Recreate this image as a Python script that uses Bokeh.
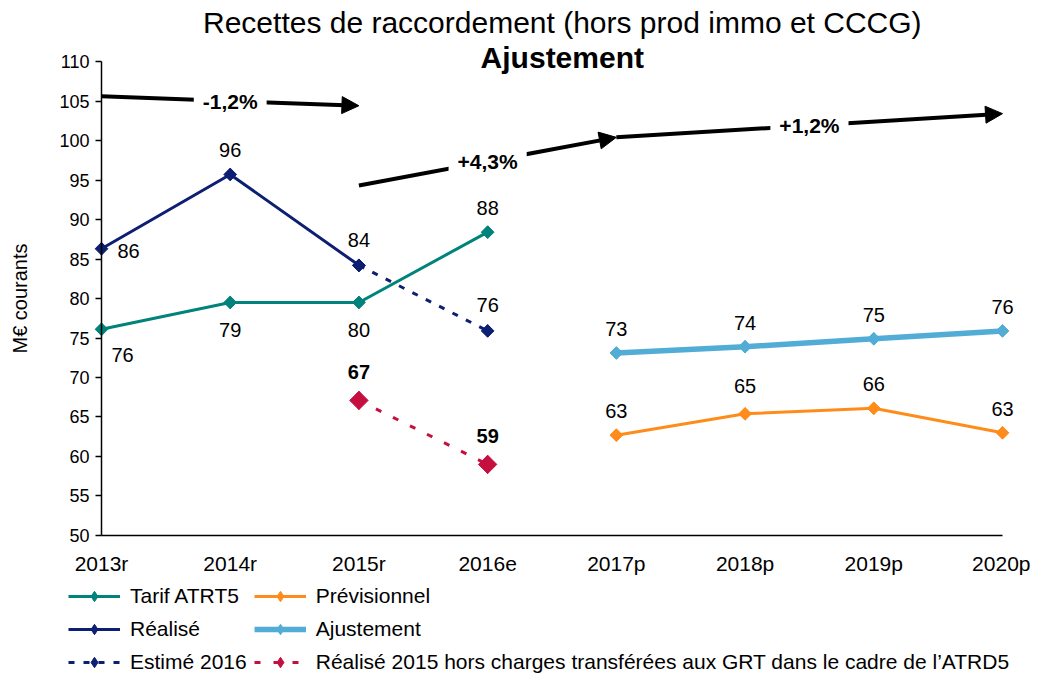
from bokeh.plotting import figure
from bokeh.models import (Range1d, FixedTicker, Label, Arrow, NormalHead, Legend,
                          LegendItem, ColumnDataSource)
from bokeh.core.properties import value
from bokeh.embed import file_html
from bokeh.resources import INLINE

# ---------------- data ----------------
CATEGORIES = ["2013r", "2014r", "2015r", "2016e", "2017p", "2018p", "2019p", "2020p"]

TARIF_CATS = ["2013r", "2014r", "2015r", "2016e"]
TARIF_VALUES = [76.1, 79.5, 79.5, 88.4]
TARIF_LABELS = ["76", "79", "80", "88"]

REALISE_CATS = ["2013r", "2014r", "2015r"]
REALISE_VALUES = [86.3, 95.7, 84.2]
REALISE_LABELS = ["86", "96", "84"]

ESTIME_CATS = ["2015r", "2016e"]
ESTIME_VALUES = [84.2, 75.9]
ESTIME_LABELS = ["", "76"]

HORS_GRT_CATS = ["2015r", "2016e"]
HORS_GRT_VALUES = [67.1, 59.0]
HORS_GRT_LABELS = ["67", "59"]

PREV_CATS = ["2017p", "2018p", "2019p", "2020p"]
PREV_VALUES = [62.7, 65.4, 66.1, 63.0]
PREV_LABELS = ["63", "65", "66", "63"]

AJUST_CATS = ["2017p", "2018p", "2019p", "2020p"]
AJUST_VALUES = [73.1, 73.9, 74.9, 75.9]
AJUST_LABELS = ["73", "74", "75", "76"]

TREND_LABELS = ["-1,2%", "+4,3%", "+1,2%"]
TREND_FROM_CAT = ["2013r", "2015r", "2017p"]
TREND_FROM_VAL = [105.6, 94.3, 100.4]
TREND_TO_CAT = ["2015r", "2017p", "2020p"]
TREND_TO_VAL = [104.4, 100.4, 103.4]

Y_MIN, Y_MAX = 50, 110
Y_TICKS = list(range(50, 111, 5))

TITLE = "Recettes de raccordement (hors prod immo et CCCG)"
SUBTITLE = "Ajustement"
Y_LABEL = "M€ courants"

# ---------------- styles ----------------
FONT = "Liberation Sans"
FONT_V = value(FONT)
TEAL = "#00837A"
NAVY = "#0D1F72"
LIGHTBLUE = "#52ADD6"
ORANGE = "#FF8C1A"
CRIMSON = "#C5103F"

def xi(cats):
    return [CATEGORIES.index(c) for c in cats]

# the frame spans the whole canvas; axes are pinned at (0, Y_MIN) and bounded
p = figure(width=1030, height=675, output_backend="svg", toolbar_location=None,
           x_range=Range1d(-0.7847, 7.2175), y_range=Range1d(32.278, 117.722),
           min_border=0)
p.outline_line_color = None
p.xgrid.visible = False
p.ygrid.visible = False
p.background_fill_color = "white"
p.border_fill_color = "white"

# axes
p.yaxis.ticker = FixedTicker(ticks=Y_TICKS)
p.yaxis.bounds = (Y_MIN, Y_MAX)
p.yaxis.fixed_location = 0
p.yaxis.minor_tick_line_color = None
p.yaxis.major_tick_out = 6
p.yaxis.major_tick_in = 0
p.yaxis.axis_line_width = 1.5
p.yaxis.axis_line_color = "black"
p.yaxis.major_tick_line_width = 1.5
p.yaxis.major_tick_line_color = "black"
p.yaxis.major_label_text_font = FONT
p.yaxis.major_label_text_font_size = "18px"
p.yaxis.major_label_text_color = "black"
p.yaxis.major_label_standoff = 6
p.yaxis.axis_label = Y_LABEL
p.yaxis.axis_label_text_font = FONT
p.yaxis.axis_label_text_font_size = "20px"
p.yaxis.axis_label_text_font_style = "normal"
p.yaxis.axis_label_text_color = "black"
p.yaxis.axis_label_standoff = 25

p.xaxis.ticker = FixedTicker(ticks=list(range(len(CATEGORIES))))
p.xaxis.bounds = (0, len(CATEGORIES) - 1)
p.xaxis.fixed_location = Y_MIN
p.xaxis.major_label_overrides = {i: c for i, c in enumerate(CATEGORIES)}
p.xaxis.minor_tick_line_color = None
p.xaxis.major_tick_line_color = None
p.xaxis.axis_line_width = 1.5
p.xaxis.axis_line_color = "black"
p.xaxis.major_label_text_font = FONT
p.xaxis.major_label_text_font_size = "21px"
p.xaxis.major_label_text_color = "black"
p.xaxis.major_label_standoff = 11

# series
def series(cats, vals, color, lw, dash="solid", msize=9, legend_msize=12):
    src = ColumnDataSource(dict(x=xi(cats), y=vals))
    l = p.line("x", "y", source=src, line_color=color, line_width=lw, line_dash=dash)
    # diamond used for the legend swatch, hidden under the square-diamond marker
    d = p.scatter("x", "y", source=src, marker="diamond", size=legend_msize,
                  fill_color=color, line_color=color)
    p.scatter("x", "y", source=src, marker="square", angle=0.785398, size=msize,
              fill_color=color, line_color=color)
    return [l, d]

r_tarif = series(TARIF_CATS, TARIF_VALUES, TEAL, 3)
r_real = series(REALISE_CATS, REALISE_VALUES, NAVY, 3)
r_est = series(ESTIME_CATS, ESTIME_VALUES, NAVY, 3, dash="6 9")
r_grt = series(HORS_GRT_CATS, HORS_GRT_VALUES, CRIMSON, 3, dash="6 13", msize=13,
               legend_msize=18)
r_prev = series(PREV_CATS, PREV_VALUES, ORANGE, 3)
r_ajust = series(AJUST_CATS, AJUST_VALUES, LIGHTBLUE, 5.5)

# data labels
def labels(cats, vals, texts, dx, dy, bold=False):
    src = ColumnDataSource(dict(x=xi(cats), y=vals, t=texts, dx=dx, dy=dy))
    p.text("x", "y", text="t", source=src, x_offset="dx", y_offset="dy",
           text_align="center", text_baseline="middle", text_font=FONT_V,
           text_font_size="20px", text_color="black",
           text_font_style="bold" if bold else "normal")

labels(TARIF_CATS, TARIF_VALUES, TARIF_LABELS, [21, 0, 0, 0], [26, 28, 28, -24])
labels(REALISE_CATS, REALISE_VALUES, REALISE_LABELS, [27, 0, 0], [2, -24, -25])
labels(ESTIME_CATS, ESTIME_VALUES, ESTIME_LABELS, [0, 0], [-26, -26])
labels(HORS_GRT_CATS, HORS_GRT_VALUES, HORS_GRT_LABELS, [0, 0], [-28, -28], bold=True)
labels(PREV_CATS, PREV_VALUES, PREV_LABELS, [0, 0, 0, 0], [-24, -28, -24, -24])
labels(AJUST_CATS, AJUST_VALUES, AJUST_LABELS, [0, 0, 0, 0], [-24, -24, -24, -24])

# trend arrows
for fc, fv, tc, tv in zip(TREND_FROM_CAT, TREND_FROM_VAL, TREND_TO_CAT, TREND_TO_VAL):
    p.add_layout(Arrow(x_start=CATEGORIES.index(fc), y_start=fv,
                       x_end=CATEGORIES.index(tc), y_end=tv,
                       line_width=4, line_color="black",
                       end=NormalHead(size=17, fill_color="black", line_color="black")))
for txt, fc, fv, tc, tv in zip(TREND_LABELS, TREND_FROM_CAT, TREND_FROM_VAL, TREND_TO_CAT, TREND_TO_VAL):
    xm = (CATEGORIES.index(fc) + CATEGORIES.index(tc)) / 2
    ym = (fv + tv) / 2
    p.add_layout(Label(x=xm, y=ym, text=txt, text_align="center", text_baseline="middle",
                       text_font=FONT, text_font_size="21px", text_font_style="bold",
                       text_color="black", background_fill_color="white", padding=9))

# titles
p.add_layout(Label(x=3.58, y=114.9, text=TITLE, text_align="center", text_baseline="middle",
                   text_font=FONT, text_font_size="30px", text_color="black"))
p.add_layout(Label(x=3.58, y=110.5, text=SUBTITLE, text_align="center", text_baseline="middle",
                   text_font=FONT, text_font_size="30px", text_font_style="bold",
                   text_color="black"))

# legend
items = [
    LegendItem(label="Tarif ATRT5", renderers=r_tarif),
    LegendItem(label="Réalisé", renderers=r_real),
    LegendItem(label="Estimé 2016", renderers=r_est),
    LegendItem(label="Prévisionnel", renderers=r_prev),
    LegendItem(label="Ajustement", renderers=r_ajust),
    LegendItem(label="Réalisé 2015 hors charges transférées aux GRT dans le cadre de l’ATRD5",
               renderers=r_grt),
]
leg = Legend(items=items, ncols=2, location=(68, 0),
             label_text_font=FONT, label_text_font_size="21px", label_text_color="black",
             glyph_width=52, glyph_height=26, label_height=26, label_standoff=10,
             spacing=7, padding=0, margin=0, border_line_color=None,
             background_fill_alpha=0)
p.add_layout(leg, "center")

open("out.html", "w").write(file_html(p, INLINE))
